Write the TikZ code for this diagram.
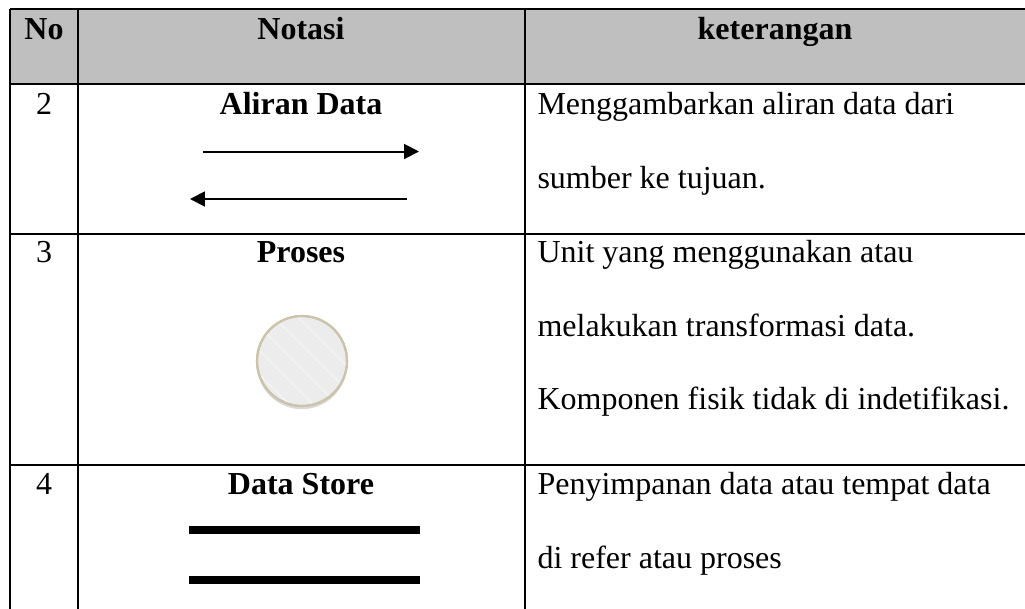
\documentclass[tikz,border=0pt]{standalone}
\usepackage{fontspec}
\setmainfont{Liberation Serif}
\usetikzlibrary{arrows.meta,shadows}
\definecolor{headgray}{HTML}{BFBFBF}
\definecolor{procfill}{HTML}{ECECEC}
\definecolor{procedge}{HTML}{CBC3AC}
\tikzset{
  grid/.style={line width=0.75pt, black},
  headtxt/.style={anchor=base, inner sep=0pt, font=\fontsize{12}{14}\selectfont\bfseries},
  celltxt/.style={anchor=base west, inner sep=0pt, font=\fontsize{12}{14}\selectfont},
  numtxt/.style={anchor=base, inner sep=0pt, font=\fontsize{12}{14}\selectfont},
  flow/.style={line width=0.75pt, -{Triangle[length=5.6pt,width=5.6pt]}},
  storebar/.style={line width=3pt},
}
\begin{document}
\begin{tikzpicture}[x=0.375pt, y=-0.375pt]
\useasboundingbox (0,0) rectangle (1025,608);
\begin{scope}
\clip (0,0) rectangle (1025,608);
% header band
\fill[headgray] (10,9) rectangle (1030,84);
% table rules
\draw[grid] (10,9) -- (1030,9);
\draw[grid] (10,84) -- (1030,84);
\draw[grid] (10,234) -- (1030,234);
\draw[grid] (10,465) -- (1030,465);
\draw[grid] (10,9) -- (10,615);
\draw[grid] (78,9) -- (78,615);
\draw[grid] (525,9) -- (525,615);
\end{scope}

% header
\node[headtxt] (hno)  at (44,39)  {No};
\node[headtxt] (hnot) at (301,39) {Notasi};
\node[headtxt] (hket) at (775,39) {keterangan};

% row 2: data flow
\node[numtxt]  (n2)  at (44,114.5)  {2};
\node[headtxt] (t2)  at (301,114.5) {Aliran Data};
\node[celltxt] (k2a) at (537,114.5) {Menggambarkan aliran data dari};
\node[celltxt] (k2b) at (537,188.5) {sumber ke tujuan.};
\coordinate (fa1) at (203,151.5);
\coordinate (fa2) at (419,151.5);
\coordinate (fb1) at (407,199);
\coordinate (fb2) at (190,199);
\draw[flow] (fa1) -- (fa2);
\draw[flow] (fb1) -- (fb2);

% row 3: process
\node[numtxt]  (n3)  at (44,262.5)  {3};
\node[headtxt] (t3)  at (301,262.5) {Proses};
\node[celltxt] (k3a) at (537,262.5) {Unit yang menggunakan atau};
\node[celltxt] (k3b) at (537,336.5) {melakukan transformasi data.};
\node[celltxt] (k3c) at (537,409.5) {Komponen fisik tidak di indetifikasi.};
\node[circle, minimum size=90*0.375pt, inner sep=0pt, fill=procfill,
      draw=procedge, line width=0.8pt,
      drop shadow={shadow xshift=0pt, shadow yshift=-1.2pt, opacity=0.25, fill=black!60}]
      (proc) at (302,361) {};
\begin{scope}
\clip (302,361) circle (44);
\foreach \d in {-80,-56,...,80}
  \draw[white, opacity=0.55, line width=0.4pt] (302+\d-60,301) -- (302+\d+60,421);
\end{scope}
\draw[procedge, line width=0.8pt] (proc.center) circle (45);

% row 4: data store
\node[numtxt]  (n4)  at (44,494.5)  {4};
\node[headtxt] (t4)  at (301,494.5) {Data Store};
\node[celltxt] (k4a) at (537,494.5) {Penyimpanan data atau tempat data};
\node[celltxt] (k4b) at (537,568) {di refer atau proses};
\coordinate (sa1) at (189,530);
\coordinate (sa2) at (420,530);
\coordinate (sb1) at (189,580);
\coordinate (sb2) at (420,580);
\draw[storebar] (sa1) -- (sa2);
\draw[storebar] (sb1) -- (sb2);
\end{tikzpicture}
\end{document}
